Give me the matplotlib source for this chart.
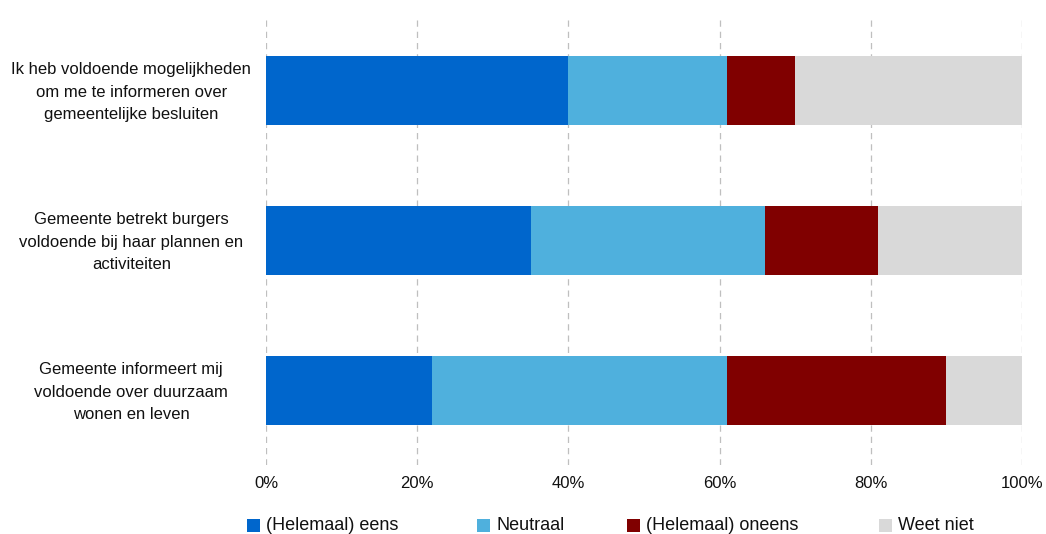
import matplotlib
matplotlib.use("Agg")
import matplotlib.pyplot as plt
from matplotlib.patches import Rectangle
import matplotlib.transforms as mtransforms
import numpy as np

plt.rcParams['font.family'] = ['Liberation Sans', 'DejaVu Sans']

categories = [
    "Ik heb voldoende mogelijkheden\nom me te informeren over\ngemeentelijke besluiten",
    "Gemeente betrekt burgers\nvoldoende bij haar plannen en\nactiviteiten",
    "Gemeente informeert mij\nvoldoende over duurzaam\nwonen en leven",
]
series_names = ["(Helemaal) eens", "Neutraal", "(Helemaal) oneens", "Weet niet"]
eens = [40, 35, 22]
neutraal = [21, 31, 39]
oneens = [9, 15, 29]
weet_niet = [30, 19, 10]
tick_labels = ["0%", "20%", "40%", "60%", "80%", "100%"]
colors = ["#0066CC", "#4FB0DD", "#800000", "#D9D9D9"]

W, H = 1046, 534
fig = plt.figure(figsize=(W / 100, H / 100), dpi=100)
ax = fig.add_axes([266 / W, 1 - 465 / H, (1022 - 266) / W, 450 / H])

y = np.arange(len(categories))
left = np.zeros(len(categories))
for vals, c, name in zip([eens, neutraal, oneens, weet_niet], colors, series_names):
    ax.barh(y, vals, left=left, height=0.46, color=c, label=name, zorder=3)
    left += np.array(vals)

ax.set_xlim(0, 100)
ax.set_ylim(2.5, -0.5)
ax.set_xticks(np.arange(0, 101, 20))
ax.set_xticklabels(tick_labels, fontsize=12, color='#111111')
ax.set_yticks(y)
ax.set_yticklabels(categories, fontsize=12, color='#111111', ha='center', linespacing=1.62)
ax.tick_params(axis='y', length=0, pad=97)
ax.tick_params(axis='x', length=0, pad=8)
offset = mtransforms.ScaledTranslation(0, 3 / 100, fig.dpi_scale_trans)
for lab in ax.get_yticklabels():
    lab.set_transform(lab.get_transform() + offset)
ax.grid(axis='x', color='#BFBFBF', linestyle=(0, (5, 4)), linewidth=0.9, zorder=0)
for s in ax.spines.values():
    s.set_visible(False)

# legend drawn manually (layout positions in pixels)
leg_x = [247, 477, 627, 879]
sq = 13
leg_yc = 524
for x0, c, name in zip(leg_x, colors, series_names):
    fig.patches.append(Rectangle((x0 / W, 1 - (leg_yc + 1 + sq / 2) / H), sq / W, sq / H,
                                 transform=fig.transFigure, facecolor=c, edgecolor='none'))
    fig.text((x0 + sq + 6) / W, 1 - leg_yc / H, name, fontsize=13, color='#111111',
             ha='left', va='center_baseline')

fig.savefig("out.png", dpi=100)
